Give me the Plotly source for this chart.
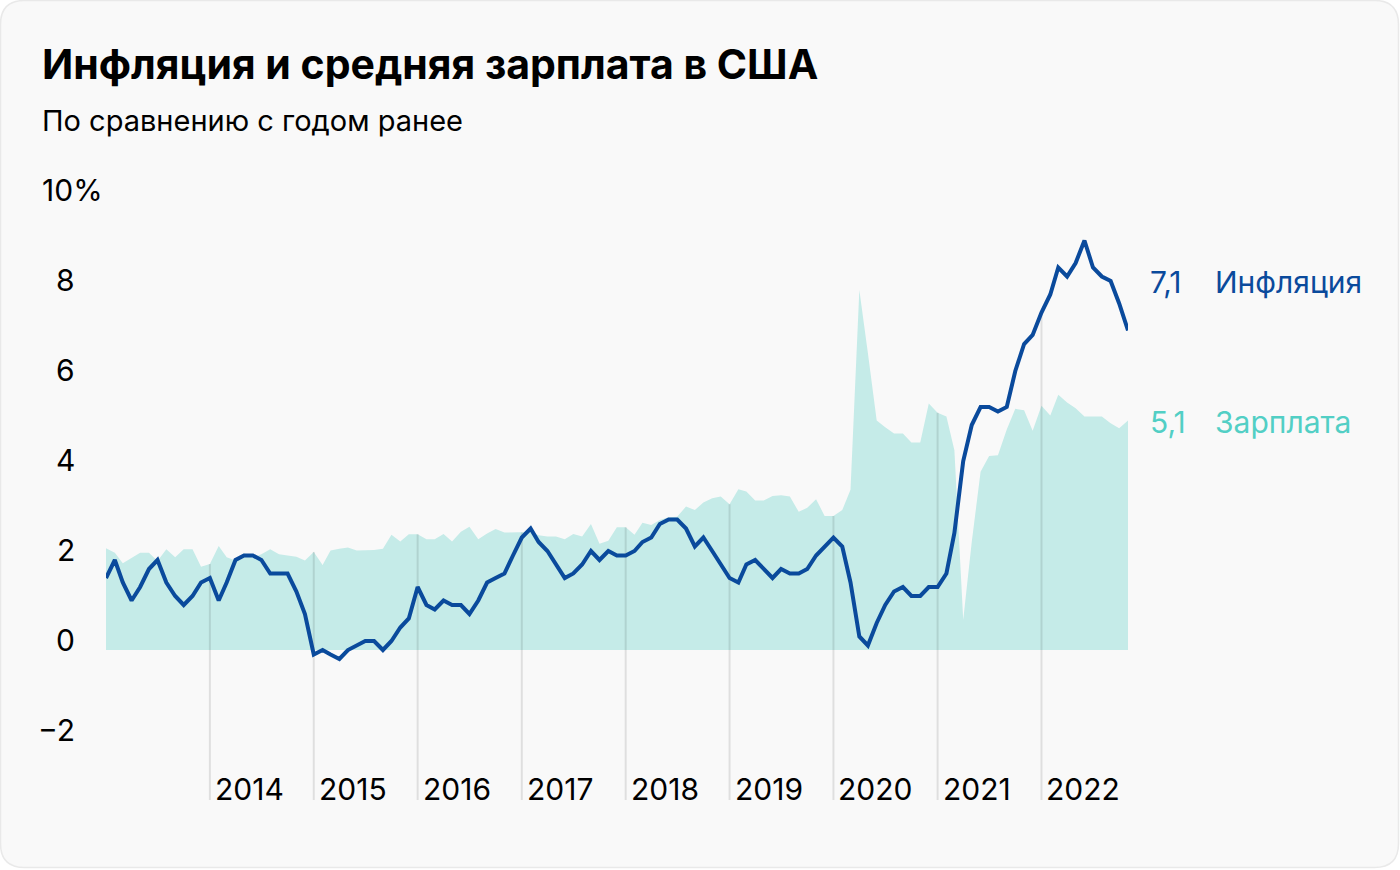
import pandas as pd
import plotly.graph_objects as go

# monthly, Jan 2013 .. Nov 2022, % year over year
months = pd.date_range("2013-01-01", "2022-11-01", freq="MS")

inflation = [
    1.6, 2.0, 1.5, 1.1, 1.4, 1.8, 2.0, 1.5, 1.2, 1.0, 1.2, 1.5,
    1.6, 1.1, 1.5, 2.0, 2.1, 2.1, 2.0, 1.7, 1.7, 1.7, 1.3, 0.8,
    -0.1, 0.0, -0.1, -0.2, 0.0, 0.1, 0.2, 0.2, 0.0, 0.2, 0.5, 0.7,
    1.4, 1.0, 0.9, 1.1, 1.0, 1.0, 0.8, 1.1, 1.5, 1.6, 1.7, 2.1,
    2.5, 2.7, 2.4, 2.2, 1.9, 1.6, 1.7, 1.9, 2.2, 2.0, 2.2, 2.1,
    2.1, 2.2, 2.4, 2.5, 2.8, 2.9, 2.9, 2.7, 2.3, 2.5, 2.2, 1.9,
    1.6, 1.5, 1.9, 2.0, 1.8, 1.6, 1.8, 1.7, 1.7, 1.8, 2.1, 2.3,
    2.5, 2.3, 1.5, 0.3, 0.1, 0.6, 1.0, 1.3, 1.4, 1.2, 1.2, 1.4,
    1.4, 1.7, 2.6, 4.2, 5.0, 5.4, 5.4, 5.3, 5.4, 6.2, 6.8, 7.0,
    7.5, 7.9, 8.5, 8.3, 8.6, 9.1, 8.5, 8.3, 8.2, 7.7, 7.1,
]

wages = [
    2.26, 2.16, 1.93, 2.04, 2.16, 2.16, 1.98, 2.24, 2.06, 2.24, 2.24, 1.85,
    1.91, 2.31, 2.06, 1.99, 2.15, 2.05, 2.13, 2.24, 2.13, 2.10, 2.07, 1.99,
    2.18, 1.89, 2.21, 2.25, 2.28, 2.21, 2.21, 2.22, 2.25, 2.56, 2.41, 2.57,
    2.57, 2.46, 2.46, 2.58, 2.41, 2.63, 2.74, 2.46, 2.59, 2.69, 2.61, 2.61,
    2.61, 2.62, 2.55, 2.52, 2.52, 2.46, 2.58, 2.52, 2.80, 2.36, 2.43, 2.73,
    2.73, 2.56, 2.83, 2.78, 2.89, 2.95, 2.96, 3.19, 3.11, 3.28, 3.37, 3.41,
    3.24, 3.57, 3.52, 3.32, 3.32, 3.42, 3.44, 3.41, 3.07, 3.16, 3.35, 2.98,
    2.98, 3.11, 3.56, 8.0, 6.6, 5.1, 4.95, 4.81, 4.81, 4.61, 4.61, 5.48,
    5.27, 5.19, 4.44, 0.67, 2.4, 3.96, 4.31, 4.33, 4.9, 5.36, 5.33, 4.87,
    5.43, 5.21, 5.67, 5.5, 5.37, 5.19, 5.19, 5.19, 5.04, 4.93, 5.1,
]

years = [2014, 2015, 2016, 2017, 2018, 2019, 2020, 2021, 2022]
y_ticks = [-2, 0, 2, 4, 6, 8, 10]
y_tick_text = ["−2", "0", "2", "4", "6", "8", "10%"]

BLUE = "#0A4A9C"
TEAL = "#C5EBE8"
TEAL_TEXT = "#52CFC5"
INK = "#000000"
FONT = "Inter"

# plot area in pixels
L, R, T, B = 106, 1128, 180, 800
W, H = 1400, 870
Y_BOTTOM = -(B - 650) / 45
Y_TOP = (650 - T) / 45


def px(x):
    return (x - L) / (R - L)


def py(y):
    return (B - y) / (B - T)


fig = go.Figure()

fig.add_trace(
    go.Scatter(
        x=months, y=wages, mode="lines", fill="tozeroy",
        fillcolor=TEAL, line=dict(width=0, color=TEAL), hoverinfo="skip",
    )
)

# year separators: from the higher series down to the bottom
gx, gy = [], []
for yr in years:
    d = pd.Timestamp(f"{yr}-01-01")
    i = list(months).index(d)
    gx += [d, d, None]
    gy += [max(inflation[i], wages[i]), Y_BOTTOM, None]
fig.add_trace(
    go.Scatter(
        x=gx, y=gy, mode="lines", line=dict(color="rgba(0,0,0,0.1)", width=2),
        hoverinfo="skip",
    )
)

fig.add_trace(
    go.Scatter(
        x=months, y=inflation, mode="lines",
        line=dict(color=BLUE, width=4), hoverinfo="skip",
    )
)

ann = []
ann.append(dict(
    xref="paper", yref="paper", x=px(40), y=py(64), xanchor="left", yanchor="middle",
    text="<b>Инфляция и средняя зарплата в США</b>", showarrow=False,
    font=dict(family=FONT, size=41, color=INK),
))
ann.append(dict(
    xref="paper", yref="paper", x=px(40), y=py(120), xanchor="left", yanchor="middle",
    text="По сравнению с годом ранее", showarrow=False,
    font=dict(family=FONT, size=29, color=INK),
))
for v, t in zip(y_ticks, y_tick_text):
    if t.endswith("%"):
        ann.append(dict(xref="paper", yref="y", x=px(40), y=v, yshift=10,
                        xanchor="left", yanchor="middle", text=t, showarrow=False,
                        font=dict(family=FONT, size=30, color=INK)))
    else:
        ann.append(dict(xref="paper", yref="y", x=px(77), y=v, yshift=10,
                        xanchor="right", yanchor="middle", text=t, showarrow=False,
                        font=dict(family=FONT, size=30, color=INK)))
for yr in years:
    ann.append(dict(xref="x", yref="paper", x=pd.Timestamp(f"{yr}-01-01"), y=py(789),
                    xshift=3, xanchor="left", yanchor="middle", text=str(yr),
                    showarrow=False, font=dict(family=FONT, size=30, color=INK)))

# end labels
last_inf = f"{inflation[-1]:.1f}".replace(".", ",")
last_wage = f"{wages[-1]:.1f}".replace(".", ",")
for val, name, col, ypix in [
    (last_inf, "Инфляция", BLUE, 282),
    (last_wage, "Зарплата", TEAL_TEXT, 422),
]:
    ann.append(dict(xref="paper", yref="paper", x=px(1148), y=py(ypix),
                    xanchor="left", yanchor="middle", text=val, showarrow=False,
                    font=dict(family=FONT, size=30, color=col)))
    ann.append(dict(xref="paper", yref="paper", x=px(1213), y=py(ypix),
                    xanchor="left", yanchor="middle", text=name, showarrow=False,
                    font=dict(family=FONT, size=30, color=col)))

# rounded card behind everything
x0, x1, y0, y1, r = 0.5, W - 1.5, 0.5, H - 2.5, 24
card = (
    f"M {px(x0 + r)},{py(y0)} L {px(x1 - r)},{py(y0)} Q {px(x1)},{py(y0)} {px(x1)},{py(y0 + r)} "
    f"L {px(x1)},{py(y1 - r)} Q {px(x1)},{py(y1)} {px(x1 - r)},{py(y1)} "
    f"L {px(x0 + r)},{py(y1)} Q {px(x0)},{py(y1)} {px(x0)},{py(y1 - r)} "
    f"L {px(x0)},{py(y0 + r)} Q {px(x0)},{py(y0)} {px(x0 + r)},{py(y0)} Z"
)

fig.update_layout(
    width=W, height=H,
    margin=dict(l=L, r=W - R, t=T, b=H - B, pad=0),
    paper_bgcolor="#FFFFFF",
    plot_bgcolor="rgba(0,0,0,0)",
    showlegend=False,
    xaxis=dict(range=[months[0], months[-1]], visible=False, fixedrange=True),
    yaxis=dict(range=[Y_BOTTOM, Y_TOP], visible=False, fixedrange=True),
    annotations=ann,
    shapes=[dict(type="path", xref="paper", yref="paper", path=card, layer="below",
                 fillcolor="#F9F9F9", line=dict(color="#E9E9E9", width=1.5))],
)

fig.write_html(
    "out.html",
    config={"displayModeBar": False},
    post_script="document.body.style.margin='0';document.body.style.overflow='hidden';",
)
